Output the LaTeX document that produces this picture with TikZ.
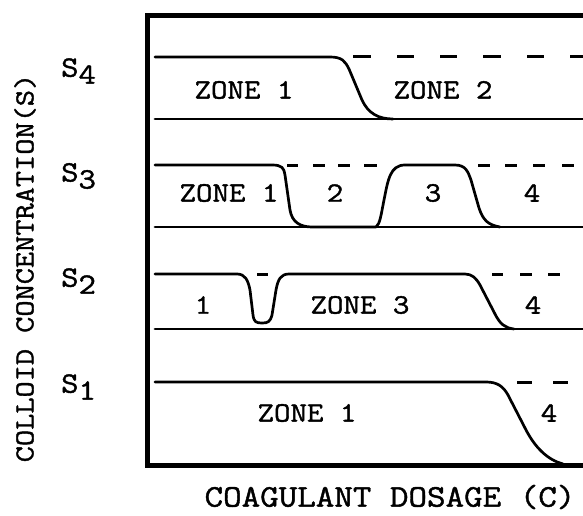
\documentclass[tikz,border=0pt]{standalone}
\usepackage{fontspec}
\newfontfamily\twfont{Latin Modern Mono}[FakeStretch=1.143,FakeBold=1.4]
\begin{document}
\begin{tikzpicture}[x=1pt,y=-1pt,
  curve/.style={line width=2.7pt,line join=round,line cap=round},
  dsh/.style={line width=3pt},
  lbl/.style={font=\fontsize{28}{30}\selectfont\twfont, inner sep=0pt},
  axl/.style={font=\fontsize{29.5}{30}\selectfont\twfont, inner sep=0pt}]
\useasboundingbox (0,0) rectangle (583,516);
% frame
\draw[line width=5pt] (583,15.5) -- (147.5,15.5) -- (147.5,465) -- (583,465);
% ---------- S4 ----------
\draw[curve] (155,57) -- (330,57) .. controls (342,57) and (345,61) .. (349,69)
  -- (362,100) .. controls (368,113) and (378,119) .. (393,119);
\draw[curve] (155,119) -- (583,119);
\foreach \a/\b in {353/371,397/414,440/457,483/501,527/544,570/583}
  \draw[dsh] (\a,57) -- (\b,57);
\node[lbl] (z41) at (244,90) {ZONE 1};
\node[lbl] (z42) at (443,90) {ZONE 2};
% ---------- S3 ----------
\draw[curve] (155,165) -- (272,165) .. controls (282,165) and (284,168) .. (285,175)
  -- (290,210) .. controls (292,222) and (300,227) .. (312,227) -- (376,227)
  .. controls (380,224) and (381,215) .. (384,200)
  .. controls (388,180) and (390,165) .. (405,165) -- (455,165)
  .. controls (466,165) and (468,172) .. (471,180)
  -- (479,208) .. controls (483,220) and (488,225) .. (500,227);
\draw[curve] (155,227) -- (583,227);
\foreach \a/\b in {287/298,313/325,338/350,364/377,478/490,505/517,533/545,562/574}
  \draw[dsh] (\a,165) -- (\b,165);
\node[lbl] (z31) at (229,193) {ZONE 1};
\node[lbl] (z32) at (335,193) {2};
\node[lbl] (z33) at (433,193) {3};
\node[lbl] (z34) at (532,193) {4};
% ---------- S2 ----------
\draw[curve] (155,274) -- (237,274) .. controls (245,274) and (248,280) .. (250,290)
  -- (253,315) .. controls (254,322) and (256,323) .. (262,323)
  .. controls (268,323) and (270,322) .. (272,315)
  -- (276,290) .. controls (278,279) and (281,274) .. (289,274) -- (465,274)
  .. controls (472,274) and (476,278) .. (480,285)
  -- (495,314) .. controls (500,324) and (505,328) .. (514,329);
\draw[curve] (155,329) -- (583,329);
\foreach \a/\b in {257/268,492/503,520/532,548/560}
  \draw[dsh] (\a,274) -- (\b,274);
\node[lbl] (z21) at (203,305) {1};
\node[lbl] (z23) at (360,305) {ZONE 3};
\node[lbl] (z24) at (533,305) {4};
% ---------- S1 ----------
\draw[curve] (155,382) -- (486,382) .. controls (497,382) and (503,386) .. (508,395)
  -- (525,428) .. controls (535,448) and (548,460) .. (563,464);
\foreach \a/\b in {517/532,553/568}
  \draw[dsh] (\a,382) -- (\b,382);
\node[lbl] (z11) at (307,413) {ZONE 1};
\node[lbl] (z14) at (549,413) {4};
% ---------- axis labels ----------
\node[axl,anchor=west] (s4) at (61,71) {S\raisebox{-7pt}{4}};
\node[axl,anchor=west] (s3) at (61,176) {S\raisebox{-7pt}{3}};
\node[axl,anchor=west] (s2) at (61,281) {S\raisebox{-7pt}{2}};
\node[axl,anchor=west] (s1) at (61,387) {S\raisebox{-7pt}{1}};
\node[lbl,font=\fontsize{27.5}{30}\selectfont\twfont,rotate=90] (ylab) at (25,268) {COLLOID CONCENTRATION(S)};
\node[axl,font=\fontsize{31.5}{32}\selectfont\twfont] (xlab) at (390,497) {COAGULANT DOSAGE (C)};
\end{tikzpicture}
\end{document}
